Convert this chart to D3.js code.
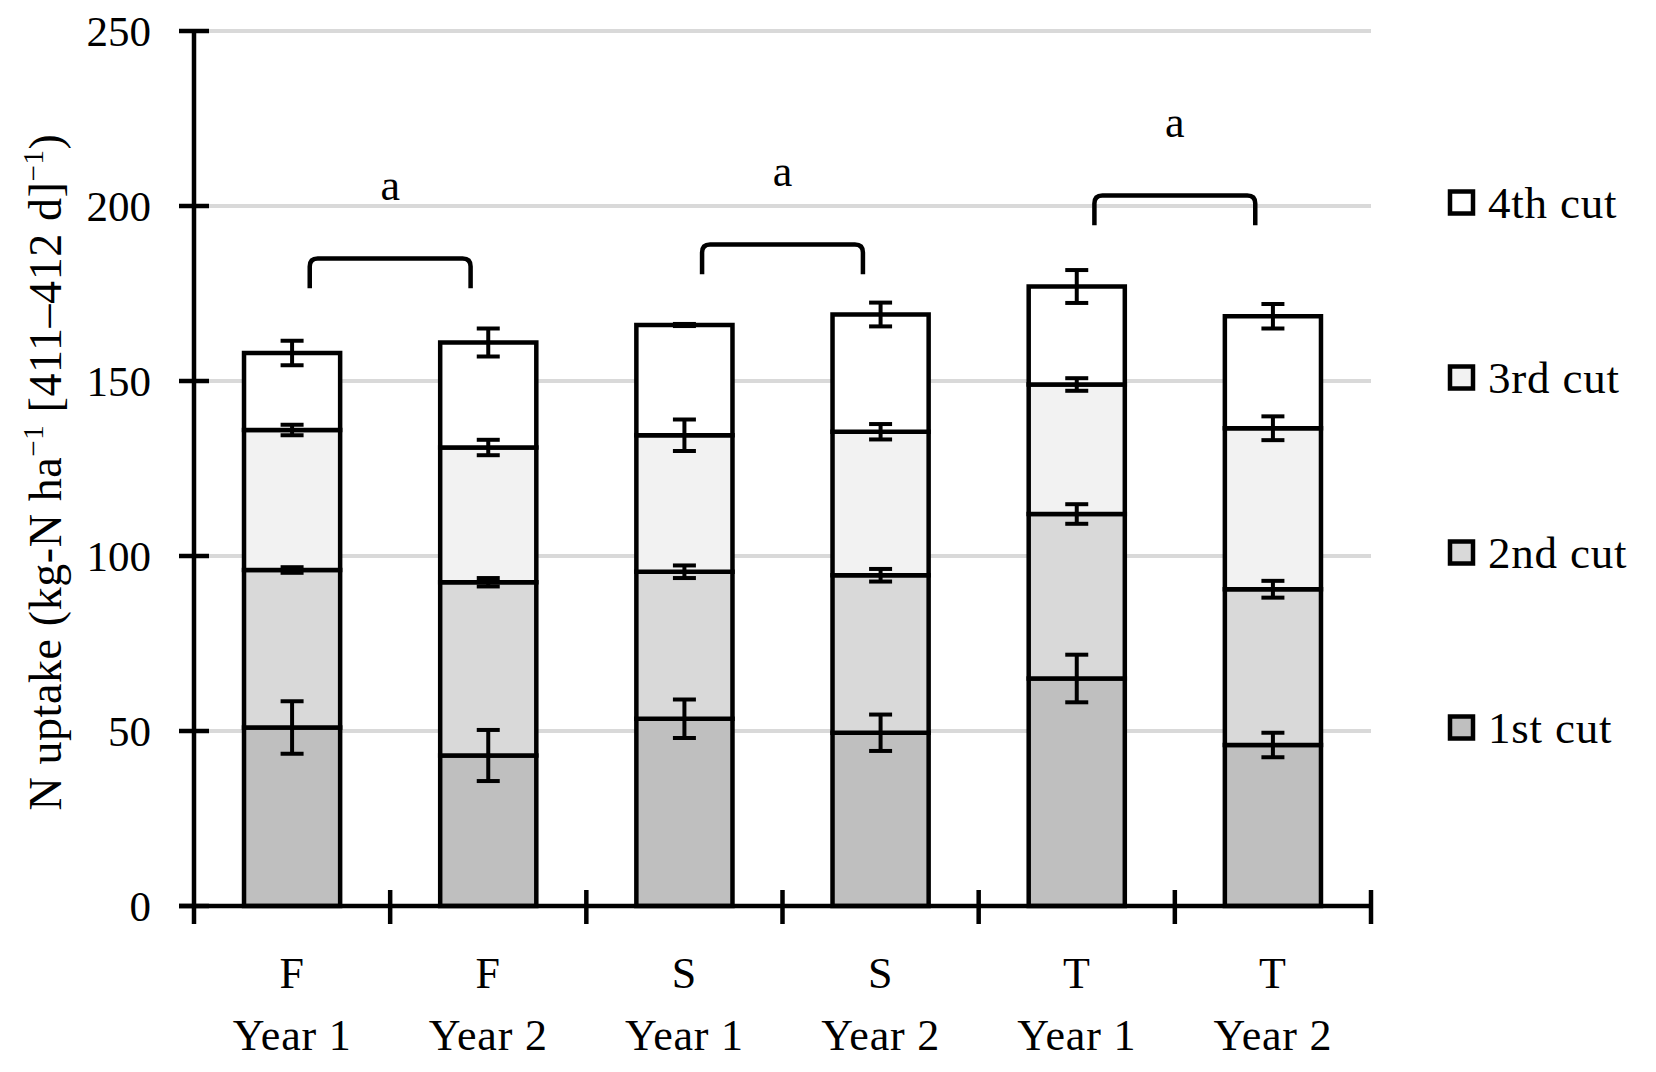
<!DOCTYPE html>
<html>
<head>
<meta charset="utf-8">
<script src="https://cdn.jsdelivr.net/npm/d3@7"></script>
<style>
  body { margin: 0; background: #fff; }
  text { font-family: "Palatino Linotype", "Book Antiqua", Palatino, "Liberation Serif", serif; fill: #000; }
</style>
</head>
<body>
<script>
var W = 1656, H = 1072;

// data
var treatments = ["F", "F", "S", "S", "T", "T"];
var years = ["Year 1", "Year 2", "Year 1", "Year 2", "Year 1", "Year 2"];
var cutNames = ["1st cut", "2nd cut", "3rd cut", "4th cut"];
var cut1 = [51, 43, 53.5, 49.5, 65, 46];
var cut2 = [45, 49.5, 42, 45, 47, 44.5];
var cut3 = [40, 38.5, 39, 41, 37, 46];
var cut4 = [22, 30, 31.5, 33.5, 28, 32];
var err1 = [7.5, 7.3, 5.5, 5.2, 6.8, 3.5];
var err2 = [0.8, 1.2, 1.8, 1.8, 2.8, 2.4];
var err3 = [1.5, 2.2, 4.5, 2.2, 1.8, 3.4];
var err4 = [3.5, 4, 0.3, 3.4, 4.7, 3.5];
var yTicks = [0, 50, 100, 150, 200, 250];
// significance brackets: pair (first index), bracket level, label
var pairStart = [0, 2, 4];
var pairLevel = [185, 189, 203];
var pairLabel = ["a", "a", "a"];

var colors = ["#bfbfbf", "#d9d9d9", "#f2f2f2", "#ffffff"];

var svg = d3.select("body")
    .append("svg")
    .attr("width", W)
    .attr("height", H);

var x0 = 194, x1 = 1371;
var x = d3.scaleBand()
    .domain(d3.range(treatments.length))
    .range([x0, x1])
    .paddingInner(0.51)
    .paddingOuter(0.255);
var step = (x1 - x0) / treatments.length;

var y = d3.scaleLinear()
    .domain([0, 250])
    .range([906, 31]);

// gridlines
svg.append("g")
    .selectAll("line")
    .data(yTicks.slice(1))
    .enter()
    .append("line")
    .attr("x1", x0)
    .attr("x2", x1)
    .attr("y1", function(d){ return y(d); })
    .attr("y2", function(d){ return y(d); })
    .attr("stroke", "#d9d9d9")
    .attr("stroke-width", 4);

// stacked bars
var rows = treatments.map(function(t, i){
    return {i: i, c0: cut1[i], c1: cut2[i], c2: cut3[i], c3: cut4[i]};
});
var errs = [err1, err2, err3, err4];
var stack = d3.stack().keys(["c0", "c1", "c2", "c3"]);
var series = stack(rows);

var layers = svg.append("g")
    .selectAll("g")
    .data(series)
    .enter()
    .append("g")
    .attr("fill", function(d, k){ return colors[k]; });

layers.selectAll("rect")
    .data(function(d){ return d; })
    .enter()
    .append("rect")
    .attr("x", function(d){ return x(d.data.i); })
    .attr("width", x.bandwidth())
    .attr("y", function(d){ return y(d[1]); })
    .attr("height", function(d){ return y(d[0]) - y(d[1]); })
    .attr("stroke", "#000")
    .attr("stroke-width", 4.5);

// error bars at top of each segment
var capW = 23;
series.forEach(function(s, k){
    var g = svg.append("g").attr("stroke", "#000").attr("stroke-width", 4);
    s.forEach(function(d){
        var cx = x(d.data.i) + x.bandwidth() / 2;
        var e = errs[k][d.data.i];
        var yt = y(d[1] + e), yb = y(d[1] - e);
        g.append("line").attr("x1", cx).attr("x2", cx).attr("y1", yt).attr("y2", yb);
        g.append("line").attr("x1", cx - capW/2).attr("x2", cx + capW/2).attr("y1", yt).attr("y2", yt);
        g.append("line").attr("x1", cx - capW/2).attr("x2", cx + capW/2).attr("y1", yb).attr("y2", yb);
    });
});

// axes
var yAxis = svg.append("g");
yAxis.append("line")
    .attr("x1", x0).attr("x2", x0)
    .attr("y1", y(250)).attr("y2", y(0) + 18)
    .attr("stroke", "#000").attr("stroke-width", 4.5);
yAxis.selectAll("line.tick")
    .data(yTicks)
    .enter()
    .append("line")
    .attr("class", "tick")
    .attr("x1", x0 - 15).attr("x2", x0 + 15)
    .attr("y1", function(d){ return y(d); })
    .attr("y2", function(d){ return y(d); })
    .attr("stroke", "#000").attr("stroke-width", 4.5);
yAxis.selectAll("text")
    .data(yTicks)
    .enter()
    .append("text")
    .attr("x", 151)
    .attr("y", function(d){ return y(d); })
    .attr("dy", "0.34em")
    .attr("text-anchor", "end")
    .attr("font-size", 43)
    .text(function(d){ return d; });

var xAxis = svg.append("g");
xAxis.append("line")
    .attr("x1", x0 - 15).attr("x2", x1)
    .attr("y1", y(0)).attr("y2", y(0))
    .attr("stroke", "#000").attr("stroke-width", 4.5);
xAxis.selectAll("line.tick")
    .data(d3.range(1, treatments.length + 1))
    .enter()
    .append("line")
    .attr("class", "tick")
    .attr("x1", function(d){ return x0 + d * step; })
    .attr("x2", function(d){ return x0 + d * step; })
    .attr("y1", y(0) - 16).attr("y2", y(0) + 18)
    .attr("stroke", "#000").attr("stroke-width", 4.5);

var xl = xAxis.selectAll("text.lab")
    .data(treatments)
    .enter()
    .append("text")
    .attr("class", "lab")
    .attr("text-anchor", "middle")
    .attr("font-size", 44)
    .attr("letter-spacing", 0.8);
xl.append("tspan")
    .attr("x", function(d, i){ return x(i) + x.bandwidth() / 2; })
    .attr("y", 988)
    .text(function(d){ return d; });
xl.append("tspan")
    .attr("x", function(d, i){ return x(i) + x.bandwidth() / 2; })
    .attr("y", 1050)
    .text(function(d, i){ return years[i]; });

// y axis title
var title = svg.append("text")
    .attr("transform", "translate(61," + 472 + ") rotate(-90)")
    .attr("text-anchor", "middle")
    .attr("font-size", 46)
    .attr("letter-spacing", 0.6);
title.append("tspan").text("N uptake (kg-N ha");
title.append("tspan").attr("font-size", 29).attr("dy", -18).text("\u22121");
title.append("tspan").attr("dy", 18).text(" [411\u2013412 d]");
title.append("tspan").attr("font-size", 29).attr("dy", -18).text("\u22121");
title.append("tspan").attr("dy", 18).text(")");

// significance brackets
var legLen = 8.5, r = 8;
pairStart.forEach(function(p, k){
    var cx = x0 + (p + 1) * step;
    var hw = 0.41 * step;
    var yt = y(pairLevel[k]), yb = y(pairLevel[k] - legLen);
    var xa = cx - hw, xb = cx + hw;
    svg.append("path")
        .attr("d", "M" + xa + "," + yb + " L" + xa + "," + (yt + r) +
            " Q" + xa + "," + yt + " " + (xa + r) + "," + yt +
            " L" + (xb - r) + "," + yt +
            " Q" + xb + "," + yt + " " + xb + "," + (yt + r) +
            " L" + xb + "," + yb)
        .attr("fill", "none")
        .attr("stroke", "#000")
        .attr("stroke-width", 4.5);
    svg.append("text")
        .attr("x", cx)
        .attr("y", yt - 59)
        .attr("text-anchor", "middle")
        .attr("font-size", 44)
        .text(pairLabel[k]);
});

// legend (top item = 4th cut)
var legend = svg.append("g")
    .selectAll("g")
    .data(d3.range(cutNames.length).reverse())
    .enter()
    .append("g")
    .attr("transform", function(k){ return "translate(1450," + y(51 + k * 50) + ")"; });
legend.append("rect")
    .attr("x", 0).attr("y", -11)
    .attr("width", 23).attr("height", 22)
    .attr("fill", function(k){ return colors[k]; })
    .attr("stroke", "#000")
    .attr("stroke-width", 4.5);
legend.append("text")
    .attr("x", 38)
    .attr("y", 0)
    .attr("dy", "0.35em")
    .attr("font-size", 45)
    .attr("letter-spacing", 0.8)
    .text(function(k){ return cutNames[k]; });
</script>
</body>
</html>
